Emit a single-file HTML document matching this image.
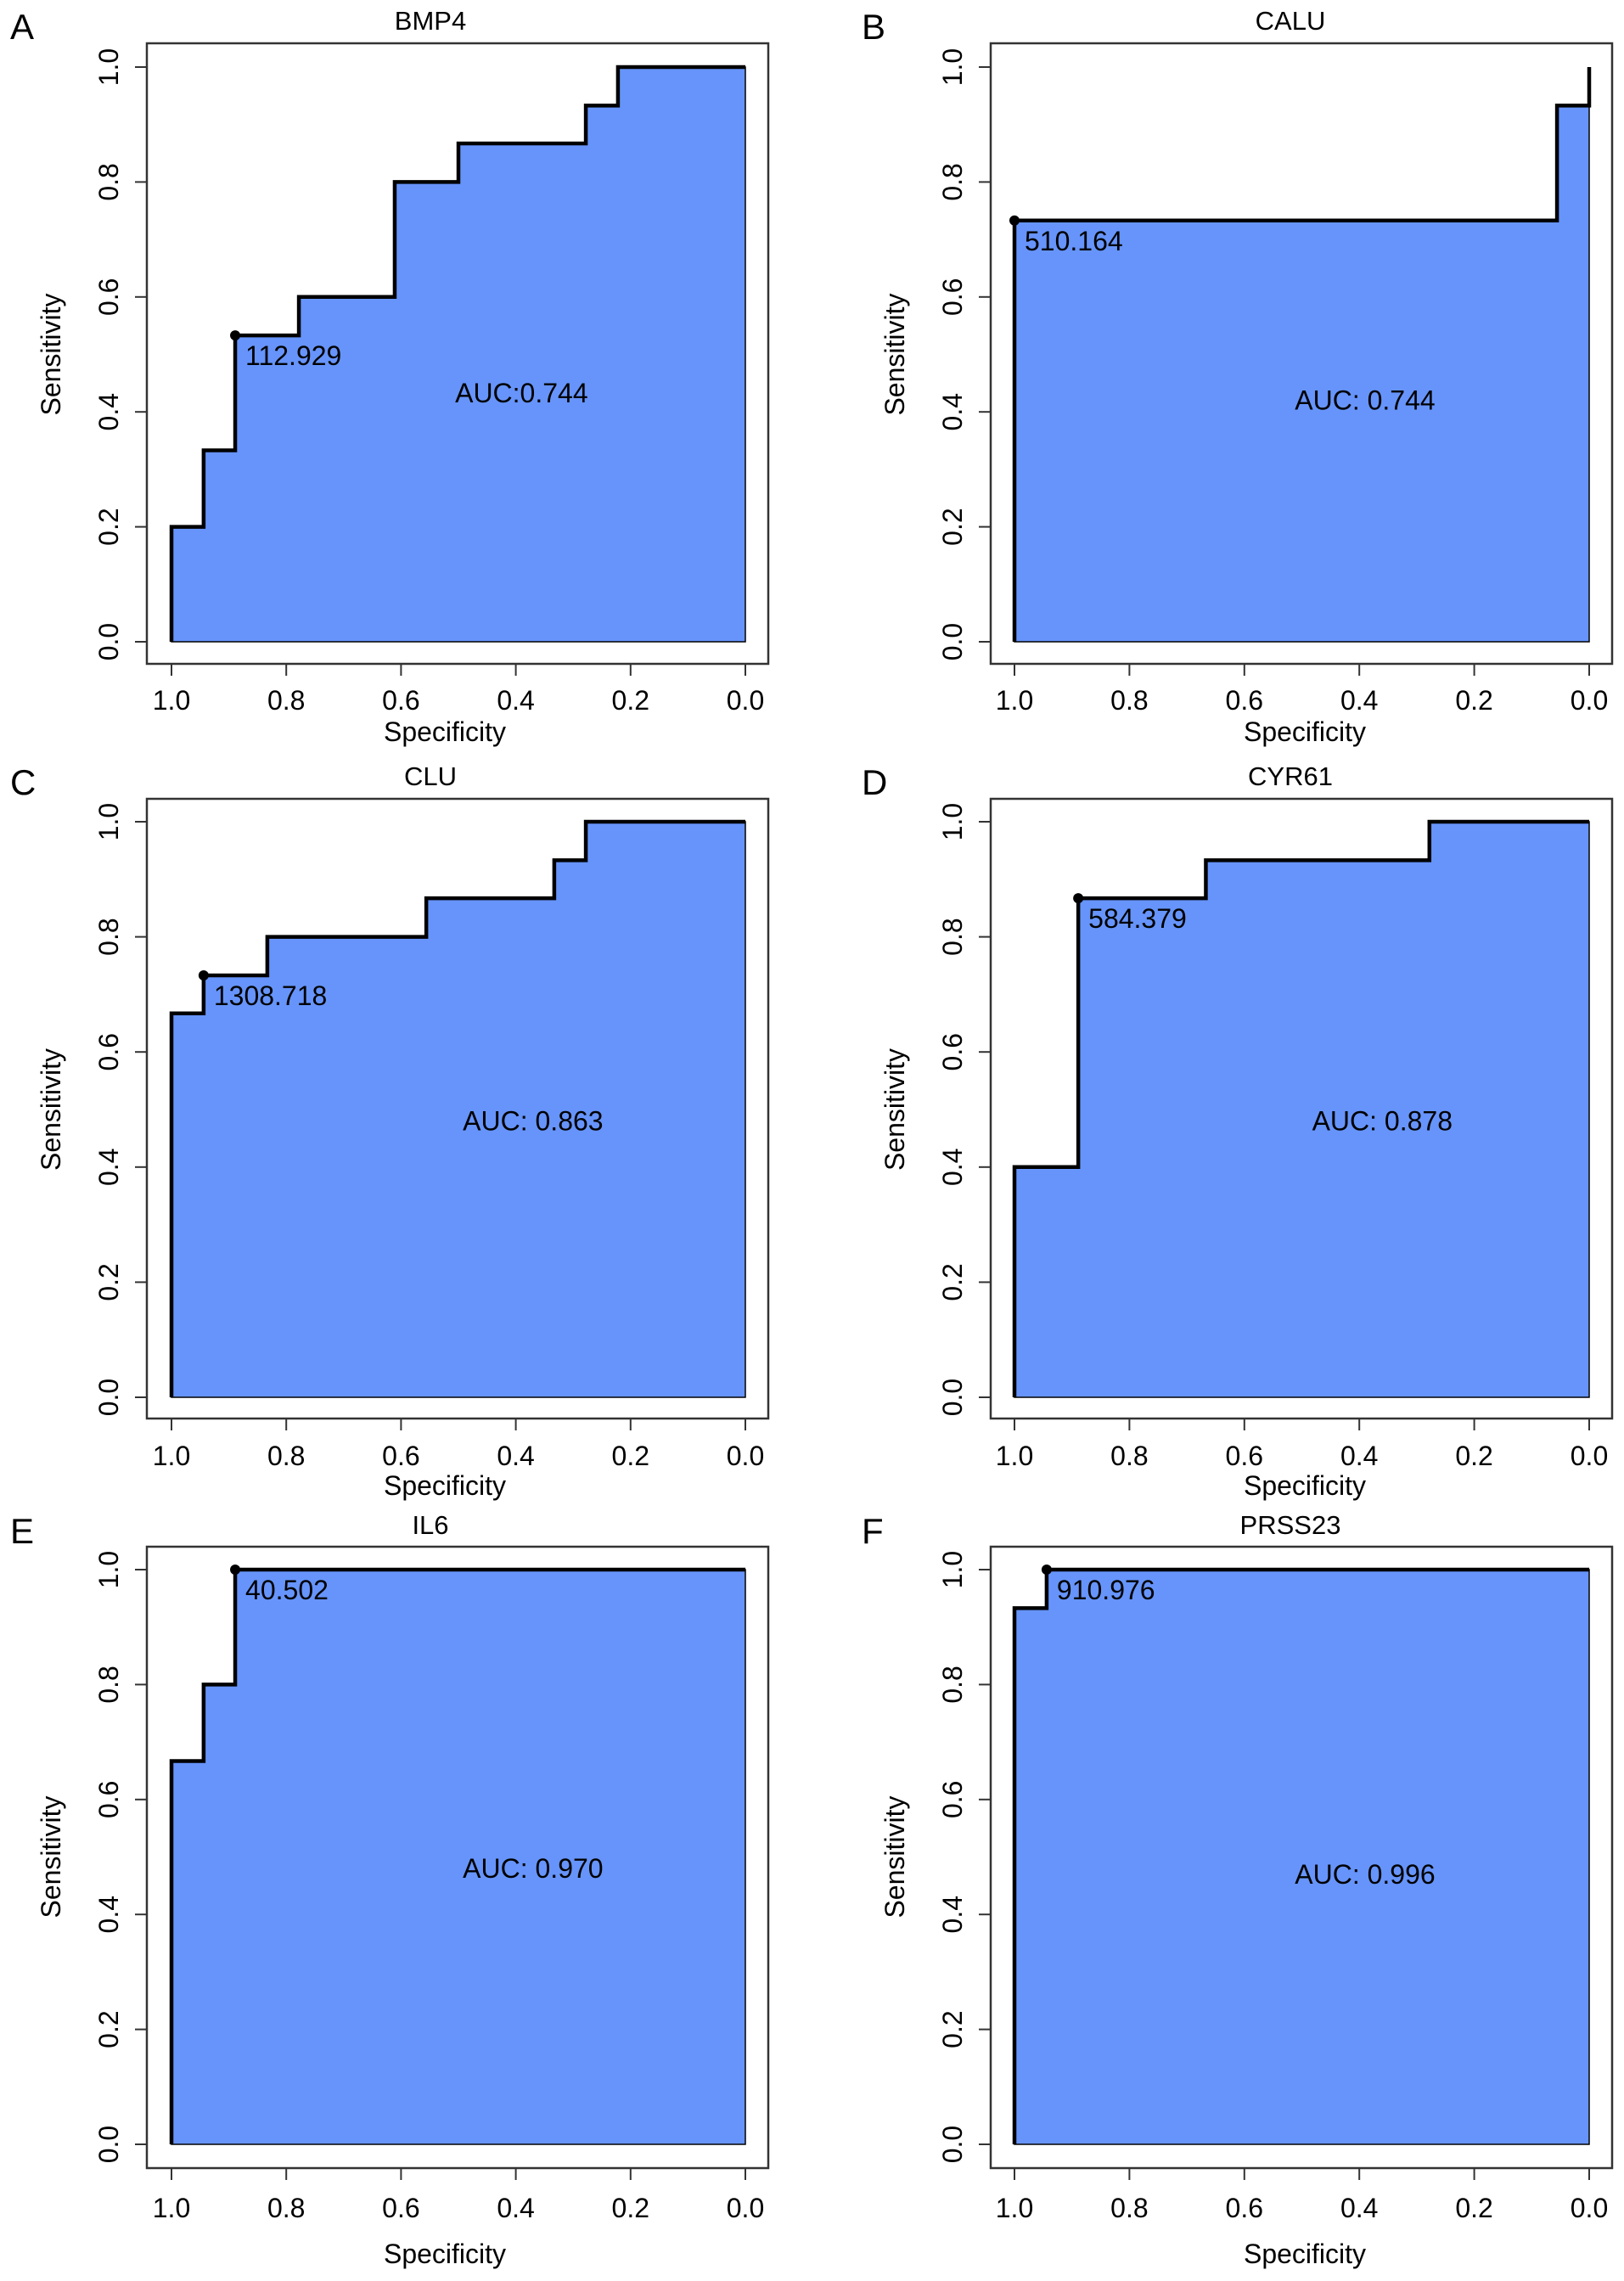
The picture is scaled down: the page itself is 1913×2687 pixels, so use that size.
<!DOCTYPE html>
<html><head><meta charset="utf-8">
<style>
html,body{margin:0;padding:0;background:#fff;}
svg{display:block;font-family:"Liberation Sans",Arial,sans-serif;}
</style></head>
<body>
<svg id="fig" width="1913" height="2687" viewBox="0 0 1913 2687" xmlns="http://www.w3.org/2000/svg"></svg>
<script>
// ---- data ----
const panelLetters = ["A","B","C","D","E","F"];
const geneNames = ["BMP4","CALU","CLU","CYR61","IL6","PRSS23"];
const aucLabels = ["AUC:0.744","AUC: 0.744","AUC: 0.863","AUC: 0.878","AUC: 0.970","AUC: 0.996"];
const cutoffLabels = ["112.929","510.164","1308.718","584.379","40.502","910.976"];
const specA = [1,1,0.944,0.944,0.889,0.889,0.778,0.778,0.611,0.611,0.5,0.5,0.278,0.278,0.222,0.222,0];
const sensA = [0,0.2,0.2,0.333,0.333,0.533,0.533,0.6,0.6,0.8,0.8,0.867,0.867,0.933,0.933,1,1];
const specB = [1,1,0.056,0.056,0,0];
const sensB = [0,0.733,0.733,0.933,0.933,1];
const specC = [1,1,0.944,0.944,0.833,0.833,0.556,0.556,0.333,0.333,0.278,0.278,0];
const sensC = [0,0.667,0.667,0.733,0.733,0.8,0.8,0.867,0.867,0.933,0.933,1,1];
const specD = [1,1,0.889,0.889,0.667,0.667,0.278,0.278,0];
const sensD = [0,0.4,0.4,0.867,0.867,0.933,0.933,1,1];
const specE = [1,1,0.944,0.944,0.889,0.889,0];
const sensE = [0,0.667,0.667,0.8,0.8,1,1];
const specF = [1,1,0.944,0.944,0];
const sensF = [0,0.933,0.933,1,1];
const bestSpec = [0.889,1,0.944,0.889,0.889,0.944];
const bestSens = [0.533,0.733,0.733,0.867,1,1];
const aucSpec = [0.39,0.39,0.37,0.36,0.37,0.39];
const aucSens = [0.433,0.42,0.48,0.48,0.48,0.47];
const tickValues = [1.0,0.8,0.6,0.4,0.2,0.0];
const tickLabels = ["1.0","0.8","0.6","0.4","0.2","0.0"];
const specSeries = [specA,specB,specC,specD,specE,specF];
const sensSeries = [sensA,sensB,sensC,sensD,sensE,sensF];

// ---- layout ----
const NS="http://www.w3.org/2000/svg";
const svg=document.getElementById('fig');
const cols=[{bx0:173,bx1:905,x1:202,x0:878,tc:507,letter:12},{bx0:1167,bx1:1899,x1:1195,x0:1872,tc:1520,letter:1015}];
const rows=[{by0:51,by1:782,y1:79,y0:756,title:24,tick:824,xlab:862},
            {by0:941,by1:1671,y1:968,y0:1646,title:914,tick:1714,xlab:1750},
            {by0:1822,by1:2554,y1:1849,y0:2526,title:1796,tick:2600,xlab:2655}];
function mk(tag,attrs,parent,text){const e=document.createElementNS(NS,tag);for(const k in attrs)e.setAttribute(k,attrs[k]);if(text!==undefined)e.textContent=text;(parent||svg).appendChild(e);return e;}

for(let p=0;p<6;p++){
  const c=cols[p%2], r=rows[Math.floor(p/2)];
  const X=v=>c.x0+(c.x1-c.x0)*v;
  const Y=v=>r.y0+(r.y1-r.y0)*v;
  const g=mk('g',{});
  
  
  const letter=mk('text',{x:c.letter,y:r.title+22,'font-size':42},g,panelLetters[p]);
  
  
  const t=mk('text',{x:c.tc,y:r.title+11,'font-size':31,'text-anchor':'middle'},g,geneNames[p]);
  
  
  const sp=specSeries[p], se=sensSeries[p];
  let pts=sp.map((s,i)=>X(s)+','+Y(se[i])).join(' ');
  const fill=mk('polygon',{points:pts+' '+X(0)+','+Y(0),fill:'#6694FA',stroke:'#000','stroke-width':1.5},g);
  
  
  const line=mk('polyline',{points:pts,fill:'none',stroke:'#000','stroke-width':4.5},g);
  
  
  const bx=mk('rect',{x:c.bx0,y:r.by0,width:c.bx1-c.bx0,height:r.by1-r.by0,fill:'none',stroke:'#333','stroke-width':2.5},g);
  
  
  const dot=mk('circle',{cx:X(bestSpec[p]),cy:Y(bestSens[p]),r:6,fill:'#000'},g);
  
  
  const cl=mk('text',{x:X(bestSpec[p])+12,y:Y(bestSens[p])+35,'font-size':32},g,cutoffLabels[p]);
  
  
  const al=mk('text',{x:X(aucSpec[p]),y:Y(aucSens[p])+11,'font-size':32,'text-anchor':'middle'},g,aucLabels[p]);
  
  
  for(let i=0;i<tickValues.length;i++){
    const v=tickValues[i];
    const xt=mk('line',{x1:X(v),x2:X(v),y1:r.by1,y2:r.by1+14,stroke:'#333','stroke-width':2},g);
    
    
    const xl=mk('text',{x:X(v),y:r.tick+12,'font-size':32,'text-anchor':'middle'},g,tickLabels[i]);
    
    
    const yt=mk('line',{x1:c.bx0-14,x2:c.bx0,y1:Y(v),y2:Y(v),stroke:'#333','stroke-width':2},g);
    
    
    const lx=c.bx0-34, ly=Y(v);
    const yl=mk('text',{x:lx,y:ly,'font-size':32,'text-anchor':'middle',transform:`rotate(-90 ${lx} ${ly})`},g,tickLabels[i]);
    
    
  }
  const xa=mk('text',{x:c.tc+17,y:r.xlab+11,'font-size':32,'text-anchor':'middle'},g,'Specificity');
  
  
  const ax=c.bx0-102, ay=(r.y0+r.y1)/2;
  const ya=mk('text',{x:ax,y:ay,'font-size':32,'text-anchor':'middle',transform:`rotate(-90 ${ax} ${ay})`},g,'Sensitivity');
  
  
}
</script>
</body></html>
